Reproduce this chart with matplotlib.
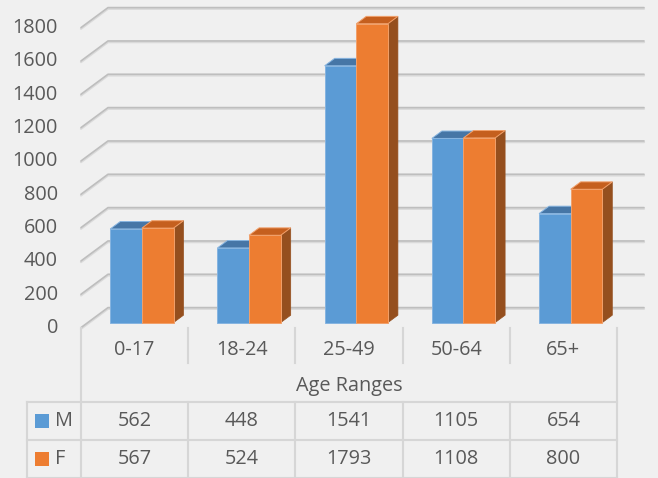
import matplotlib.pyplot as plt
from matplotlib.patches import Polygon

# data
categories = ['0-17', '18-24', '25-49', '50-64', '65+']
series_names = ['M', 'F']
m_values = [562, 448, 1541, 1105, 654]
f_values = [567, 524, 1793, 1108, 800]
y_ticks = list(range(0, 2000, 200))

plt.rcParams['font.family'] = ['Open Sans', 'DejaVu Sans']
bg = '#F0F0F0'
txt = '#595959'
tab_c = '#D6D6D6'

front = {'M': '#5B9BD5', 'F': '#ED7D31'}
top = {'M': '#4676A6', 'F': '#C55F1E'}
side = {'M': '#3E6A94', 'F': '#954F1E'}
edge = {'M': '#86B4E0', 'F': '#F2A06A'}

W, H = 658, 478
fig = plt.figure(figsize=(W / 100, H / 100), dpi=100, facecolor=bg)

# front plane of the plot area, in pixels
x_l, x_r, y_b, y_t = 81, 617, 328, 28
ax = fig.add_axes([x_l / W, 1 - y_b / H, (x_r - x_l) / W, (y_b - y_t) / H])
ax.set_xlim(0, len(categories))
ax.set_ylim(0, 1800)
ax.axis('off')

px_x = (x_r - x_l) / len(categories)   # pixels per category
px_y = (y_b - y_t) / 1800               # pixels per unit
dxf = 27 / px_x                          # wall depth in data units
dyf = 20 / px_y

# walls: gridlines on side wall and back wall (embossed look)
n = len(categories)
for v in y_ticks:
    gx = [0, dxf, n + dxf]
    gy = [v, v + dyf, v + dyf]
    ax.plot(gx, [g - 0.8 / px_y for g in gy], color='#DADADA', lw=1.6,
            clip_on=False, solid_capstyle='round', zorder=1)
    ax.plot(gx, [g + 0.4 / px_y for g in gy], color='#BEBEBE', lw=1.2,
            clip_on=False, solid_capstyle='round', zorder=1)
    ax.text(-23 / (x_r - x_l), v, str(v), transform=ax.get_yaxis_transform(),
            ha='right', va='center', fontsize=14.3, color=txt)

# 3D bars
w = 0.295
t0, t1 = 0.27, 0.64
vals = {'M': m_values, 'F': f_values}
for i in range(n):
    for s, name in enumerate(series_names):
        v = vals[name][i]
        x0 = i + 0.5 - w + s * w
        x1 = x0 + w
        a0, b0 = t0 * dxf, t0 * dyf
        a1, b1 = t1 * dxf, t1 * dyf
        sd = Polygon([(x1 + a0, b0), (x1 + a1, b1), (x1 + a1, v + b1), (x1 + a0, v + b0)],
                     closed=True, fc=side[name], ec=side[name], lw=0.5, clip_on=False, zorder=3)
        tp = Polygon([(x0 + a0, v + b0), (x1 + a0, v + b0), (x1 + a1, v + b1), (x0 + a1, v + b1)],
                     closed=True, fc=top[name], ec=edge[name], lw=0.7, clip_on=False, zorder=3)
        fr = Polygon([(x0 + a0, b0), (x1 + a0, b0), (x1 + a0, v + b0), (x0 + a0, v + b0)],
                     closed=True, fc=front[name], ec=edge[name], lw=0.7, clip_on=False, zorder=3)
        for p in (sd, tp, fr):
            ax.add_patch(p)

# data table under the chart
tab = fig.add_axes([x_l / W, 0, (x_r - x_l) / W, (H - y_b) / H])
tab.set_xlim(0, n)
tab.set_ylim(H - y_b, 0)
tab.axis('off')
rows = [0, 35, 74, 112, 150]
left = -(x_l - 27) / px_x
lk = dict(color=tab_c, lw=1.5, clip_on=False)
tab.plot([0, 0], [0, rows[4]], **lk)
tab.plot([n, n], [0, rows[4]], **lk)
for k in range(1, n):
    tab.plot([k, k], [0, rows[1]], **lk)
    tab.plot([k, k], [rows[2], rows[4]], **lk)
for r in rows[2:]:
    tab.plot([left, n], [r, r], **lk)
tab.plot([left, left], [rows[2], rows[4]], **lk)

for i, c in enumerate(categories):
    tab.text(i + 0.5, 22, c, ha='center', va='center', fontsize=14.3, color=txt)
tab.text(n / 2, 58, 'Age Ranges', ha='center', va='center', fontsize=14.3, color=txt)

for r, name in enumerate(series_names):
    yc = (rows[2 + r] + rows[3 + r]) / 2
    for i, v in enumerate(vals[name]):
        tab.text(i + 0.5, yc, str(v), ha='center', va='center', fontsize=14.3, color=txt)
    kx = (35 - x_l) / px_x
    tab.add_patch(plt.Rectangle((kx, yc - 7), 14 / px_x, 14, fc=front[name], ec='none',
                                clip_on=False))
    tab.text((55 - x_l) / px_x, yc, name, ha='left', va='center', fontsize=14.3, color=txt)

fig.savefig('out.png', dpi=100, facecolor=bg)
